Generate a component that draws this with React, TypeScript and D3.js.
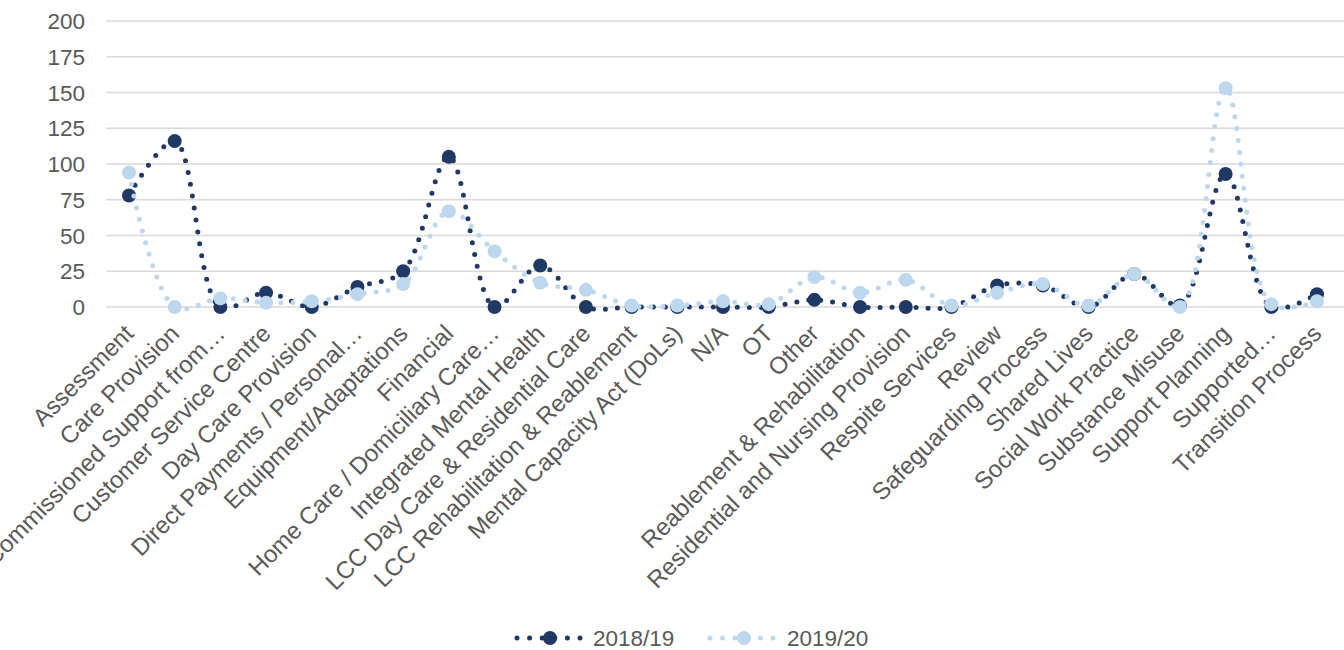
import React from "react";
import * as d3 from "d3";

// Categories along the x axis
const categories = [
  "Assessment",
  "Care Provision",
  "Commissioned Support from…",
  "Customer Service Centre",
  "Day Care Provision",
  "Direct Payments / Personal…",
  "Equipment/Adaptations",
  "Financial",
  "Home Care / Domiciliary Care…",
  "Integrated Mental Health",
  "LCC Day Care & Residential Care",
  "LCC Rehabilitation & Reablement",
  "Mental Capacity Act (DoLs)",
  "N/A",
  "OT",
  "Other",
  "Reablement & Rehabilitation",
  "Residential and Nursing Provision",
  "Respite Services",
  "Review",
  "Safeguarding Process",
  "Shared Lives",
  "Social Work Practice",
  "Substance Misuse",
  "Support Planning",
  "Supported…",
  "Transition Process",
];

// Series values
const values1819 = [78, 116, 0, 10, 0, 14, 25, 105, 0, 29, 0, 0, 0, 0, 0, 5, 0, 0, 0, 15, 15, 0, 23, 1, 93, 0, 9];
const values1920 = [94, 0, 6, 3, 4, 9, 16, 67, 39, 17, 12, 1, 1, 4, 2, 21, 10, 19, 1, 10, 16, 1, 23, 0, 153, 2, 4];

const seriesNames = ["2018/19", "2019/20"];
const seriesColors = ["#203864", "#bdd7ee"];

const yTicks = [0, 25, 50, 75, 100, 125, 150, 175, 200];

const W = 1344;
const H = 650;
const FONT = "'Liberation Sans', Arial, sans-serif";
const TEXT = "#595959";

export default function App() {
  const x = d3.scalePoint<string>().domain(categories).range([129, 1317]);
  const y = d3.scaleLinear().domain([0, 200]).range([307, 21]);

  const line = d3
    .line<number>()
    .x((_, i) => x(categories[i]) as number)
    .y((d) => y(d))
    .curve(d3.curveCatmullRom.alpha(0.5));

  const series = [values1819, values1920];

  const legendItems = [
    { lineX0: 517, lineX1: 583, marker: 550, textX: 593 },
    { lineX0: 710, lineX1: 778, marker: 744, textX: 787 },
  ];

  return (
    <svg
      width={W}
      height={H}
      style={{ position: "absolute", left: 0, top: 0, background: "#fff" }}
      fontFamily={FONT}
    >
      {/* horizontal gridlines and value axis labels */}
      {yTicks.map((t) => (
        <g key={t}>
          <line x1={106} x2={W} y1={y(t)} y2={y(t)} stroke="#d9d9d9" strokeWidth={1.5} />
          <text x={85} y={y(t) + 8} textAnchor="end" fontSize={22.5} fill={TEXT}>
            {t}
          </text>
        </g>
      ))}

      {/* category labels */}
      {categories.map((c) => (
        <text
          key={c}
          transform={`translate(${(x(c) as number) + 6},335) rotate(-45)`}
          textAnchor="end"
          fontSize={24}
          fill={TEXT}
        >
          {c}
        </text>
      ))}

      {/* smoothed dotted lines with markers */}
      {series.map((vals, si) => (
        <g key={si}>
          <path
            d={line(vals) || ""}
            fill="none"
            stroke={seriesColors[si]}
            strokeWidth={5}
            strokeLinecap="round"
            strokeDasharray="0 12"
          />
          {vals.map((v, i) => (
            <circle
              key={i}
              cx={x(categories[i]) as number}
              cy={y(v)}
              r={7}
              fill={seriesColors[si]}
            />
          ))}
        </g>
      ))}

      {/* legend */}
      {legendItems.map((l, i) => (
        <g key={i}>
          <line
            x1={l.lineX0}
            x2={l.lineX1}
            y1={638}
            y2={638}
            stroke={seriesColors[i]}
            strokeWidth={5}
            strokeLinecap="round"
            strokeDasharray="0 12.6"
          />
          <circle cx={l.marker} cy={638} r={7} fill={seriesColors[i]} />
          <text x={l.textX} y={646} fontSize={22.5} fill={TEXT}>
            {seriesNames[i]}
          </text>
        </g>
      ))}
    </svg>
  );
}
